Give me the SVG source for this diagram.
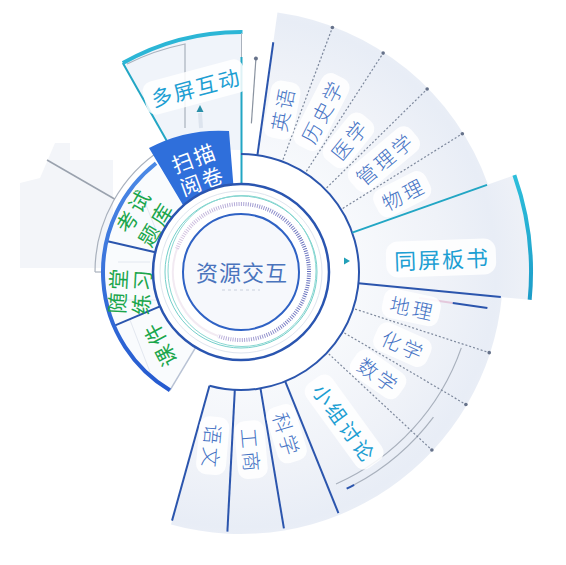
<svg xmlns="http://www.w3.org/2000/svg" width="566" height="565" viewBox="0 0 566 565">
<defs>
<radialGradient id="fanGrad" gradientUnits="userSpaceOnUse" cx="241" cy="272" r="290">
<stop offset="0.40" stop-color="#f7f9fc"/>
<stop offset="0.70" stop-color="#eff2f8"/>
<stop offset="0.88" stop-color="#e8edf6"/>
<stop offset="1" stop-color="#eef1f7"/>
</radialGradient>
<linearGradient id="dashGrad" gradientUnits="userSpaceOnUse" x1="173" y1="272" x2="309" y2="272">
<stop offset="0" stop-color="#dcc9e3"/>
<stop offset="0.5" stop-color="#aea6d6"/>
<stop offset="1" stop-color="#6670bd"/>
</linearGradient>
<linearGradient id="bandGrad" gradientUnits="userSpaceOnUse" x1="0" y1="160" x2="0" y2="392">
<stop offset="0" stop-color="#4d8ae6"/>
<stop offset="1" stop-color="#2459cf"/>
</linearGradient>
<linearGradient id="tealGrad" gradientUnits="userSpaceOnUse" x1="0" y1="170" x2="0" y2="300">
<stop offset="0" stop-color="#2ec0dc"/>
<stop offset="1" stop-color="#1d9cc8"/>
</linearGradient>
</defs>
<style>
.lbl{font-family:"Noto Sans CJK SC","Noto Sans",sans-serif;font-size:20px;font-weight:300;fill:#4472c4;text-anchor:middle;dominant-baseline:central;letter-spacing:3px}
.teal{fill:#1d9fd3;font-size:21px;font-weight:400;letter-spacing:2px}
.green{fill:#1ba64c;font-size:21px;font-weight:400;letter-spacing:3px}
.white{fill:#ffffff;font-size:21px;font-weight:400;letter-spacing:2px}
.blob{fill:#ffffff;opacity:0.85}
.sep{stroke:#2b55ad;stroke-width:2;fill:none}
.tl{stroke:#22a6c4;fill:none}
.dot{stroke:#7d889c;stroke-width:1.2;stroke-dasharray:2 2;fill:none}
.grey{stroke:#a9b1bd;stroke-width:1.2;fill:none}
.end{fill:#66728a}
</style>

<g id="background">
<polygon points="40,178 55,143 70,143 70,160 113,160 113,268 20,268 20,183" fill="#f3f5f9"/>
<path d="M257.42,155.15 L277.46,12.55 A262 262 0 0 1 487.97,184.54 L352.23,232.61 A118 118 0 0 0 257.42,155.15 Z" fill="url(#fanGrad)"/>
<path d="M352.23,232.61 L514.37,175.20 A290 290 0 0 1 529.67,299.80 L358.46,283.31 A118 118 0 0 0 352.23,232.61 Z" fill="url(#fanGrad)"/>
<path d="M358.46,283.31 L501.79,297.11 A262 262 0 0 1 170.98,524.47 L209.47,385.71 A118 118 0 0 0 358.46,283.31 Z" fill="url(#fanGrad)"/>
<path d="M171.08,148.41 L122.82,63.11 A240 240 0 0 1 241,32 L241,150 Z" fill="#f0f4fa"/>
</g>

<g id="decor">
<path class="grey" d="M95,272 A146 146 0 0 1 163.63,148.18"/>
<path class="grey" d="M95,272 L101,272"/>
<path d="M114.56,199 L47.01,160" stroke="#9aa2ae" stroke-width="1.5"/>
<path class="grey" d="M461.30,347.86 A233 233 0 0 1 336,484"/>
<path class="grey" d="M433.47,417.04 A241 241 0 0 1 354.14,484.79"/>
<path d="M354.14,484.79 A241 241 0 0 1 346.65,488.61" stroke="#2b55ad" stroke-width="2" fill="none"/>
<path d="M419.12,297.98 L452.76,302.89" stroke="#e4c8dc" stroke-width="2"/>
<path d="M452.76,302.89 L487.39,307.95" stroke="#2b55ad" stroke-width="2"/>
<path d="M251.39,123.36 L255.93,58.52" stroke="#8a93a0" stroke-width="1.2"/>
<circle cx="255.93" cy="58.52" r="2" class="end"/>
<path class="grey" d="M127,64 A234 234 0 0 1 185,44 L185,128"/>
<polygon points="200,105 203.5,112 196.5,112" fill="#2a8fa8"/>
<path d="M200,113 L201,128" stroke="#dde4ee" stroke-width="4"/>
</g>

<g id="node-duopinghudong">
<path class="tl" stroke-width="2" d="M171.08,148.41 L122.82,63.11"/>
<path stroke="#2cb6d6" stroke-width="4" fill="none" d="M122.82,63.11 A240 240 0 0 1 242.5,32"/>
<path stroke="#aab2bd" stroke-width="1" d="M241.5,33 L241.5,57"/>
<path class="tl" stroke-width="2" d="M241.5,57 L241.5,183"/>
<rect class="blob" x="-52" y="-17" width="104" height="34" rx="10" transform="translate(195,87) rotate(-15)"/>
<text class="lbl teal" x="1" y="0" transform="translate(195,87) rotate(-15)">多屏互动</text>
</g>

<g id="node-tongpingbanshu">
<path stroke="url(#tealGrad)" stroke-width="4" fill="none" d="M514.37,175.20 A290 290 0 0 1 529.67,299.80"/>
<rect class="blob" x="-55" y="-18" width="110" height="36" rx="12" transform="translate(441,258) rotate(-2)"/>
<text class="lbl teal" x="1" y="0" transform="translate(441,258) rotate(-2)" style="font-size:22px">同屏板书</text>
</g>

<g id="connectors">
<path class="sep" d="M241,154 A118 118 0 1 1 209.47,385.71"/>
<path class="sep" d="M257.42,155.15 L273.29,42.26"/>
<path class="dot" d="M283.03,159.60 L332.40,27.53"/>
<path class="dot" d="M306.36,171.36 L383.15,53.11"/>
<path class="dot" d="M326.59,187.89 L427.16,89.06"/>
<path class="dot" d="M342.77,208.41 L462.34,133.69"/>
<path class="tl" stroke-width="2" d="M352.23,232.61 L487.03,184.88"/>
<path class="sep" d="M358.46,283.31 L500.80,297.02"/>
<path class="dot" d="M355.13,309.08 L489.23,352.65"/>
<path class="dot" d="M344.40,332.90 L465.89,404.47"/>
<path class="dot" d="M328.76,353.84 L431.88,450.00"/>
<path class="sep" d="M285.20,381.41 L338.40,513.07"/>
<path class="sep" d="M260.48,388.38 L283.91,528.44"/>
<path class="sep" d="M234.82,389.84 L227.39,531.64"/>
<path class="sep" d="M209.47,385.71 L172.05,520.62"/>
<circle class="end" cx="332.40" cy="27.53" r="1.8"/>
<circle class="end" cx="383.15" cy="53.11" r="1.8"/>
<circle class="end" cx="427.16" cy="89.06" r="1.8"/>
<circle class="end" cx="462.34" cy="133.69" r="1.8"/>
<circle class="end" cx="489.23" cy="352.65" r="1.8"/>
<circle class="end" cx="465.89" cy="404.47" r="1.8"/>
<circle class="end" cx="431.88" cy="450.00" r="1.8"/>
<polygon points="344,257.5 350,261 344,264.5" fill="#22a0b8"/>
</g>

<g id="node-yingyu" transform="translate(282.1,110.1) rotate(-79)"><rect class="blob" x="-29" y="-15" width="58" height="30" rx="10"/><text class="lbl" x="1.5">英语</text></g>
<g id="node-lishixue" transform="translate(321.6,112.1) rotate(-63)"><rect class="blob" x="-40" y="-15" width="80" height="30" rx="10"/><text class="lbl" x="1.5">历史学</text></g>
<g id="node-yixue" transform="translate(348.5,140.3) rotate(-51)"><rect class="blob" x="-29" y="-15" width="58" height="30" rx="10"/><text class="lbl" x="1.5">医学</text></g>
<g id="node-guanlixue" transform="translate(383.9,159.3) rotate(-40)"><rect class="blob" x="-40" y="-15" width="80" height="30" rx="10"/><text class="lbl" x="1.5">管理学</text></g>
<g id="node-wuli" transform="translate(402.2,194.2) rotate(-27)"><rect class="blob" x="-29" y="-15" width="58" height="30" rx="10"/><text class="lbl" x="1.5">物理</text></g>
<g id="node-dili" transform="translate(411.3,307.4) rotate(12)"><rect class="blob" x="-29" y="-15" width="58" height="30" rx="10"/><text class="lbl" x="1.5">地理</text></g>
<g id="node-huaxue" transform="translate(402.4,344.7) rotate(24)"><rect class="blob" x="-29" y="-15" width="58" height="30" rx="10"/><text class="lbl" x="1.5">化学</text></g>
<g id="node-shuxue" transform="translate(378,374.3) rotate(35)"><rect class="blob" x="-29" y="-15" width="58" height="30" rx="10"/><text class="lbl" x="1.5">数学</text></g>
<g id="node-xiaozutaolun" transform="translate(344.1,422) rotate(54)"><rect class="blob" x="-52" y="-16" width="104" height="32" rx="10"/><text class="lbl teal" x="1.5" style="letter-spacing:3px;font-size:20px">小组讨论</text></g>
<g id="node-kexue" transform="translate(286.6,433.7) rotate(73)"><rect class="blob" x="-29" y="-15" width="58" height="30" rx="10"/><text class="lbl" x="1.5">科学</text></g>
<g id="node-gongshang" transform="translate(251.1,449.7) rotate(85)"><rect class="blob" x="-29" y="-15" width="58" height="30" rx="10"/><text class="lbl" x="1.5">工商</text></g>
<g id="node-yuwen" transform="translate(212.7,445.7) rotate(95)"><rect class="blob" x="-29" y="-15" width="58" height="30" rx="10"/><text class="lbl" x="1.5">语文</text></g>

<g id="left-band">
<path d="M195.68,347.43 L169.92,390.29 A138 138 0 0 1 156.04,163.25 L186.82,202.66 A88 88 0 0 0 195.68,347.43 Z" fill="#f9fbfd"/>
<path d="M130,320 L150,372 M112,300 L160,300 M118,262 L150,262 M140,190 L160,240" stroke="#e3e8f0" stroke-width="1" fill="none"/>
<path d="M195.68,347.43 L169.92,390.29" stroke="#b8c2d4" stroke-width="1.5"/>
<path class="sep" d="M160.00,306.38 L113.97,325.92"/>
<path class="sep" d="M155.26,252.20 L106.54,240.96"/>
<path d="M169.92,390.29 A138 138 0 0 1 156.04,163.25" stroke="url(#bandGrad)" stroke-width="4" fill="none"/>
</g>

<g id="node-saomiaoyuejuan">
<path d="M183.27,205.59 L149,148 A150 150 0 0 1 229,131 L233.33,184.34 A88 88 0 0 0 183.27,205.59 Z" fill="#2f6fdb"/>
<text class="lbl white" transform="translate(197,169) rotate(-20)"><tspan x="1" y="-12">扫描</tspan><tspan x="1" y="12">阅卷</tspan></text>
</g>
<g id="node-kaoshitiku">
<text class="lbl green" transform="translate(143.5,217.8) rotate(-59)"><tspan x="1.5" y="-13">考试</tspan><tspan x="1.5" y="13">题库</tspan></text>
</g>
<g id="node-suitanglianxi">
<text class="lbl green" transform="translate(129,291.8) rotate(-87)"><tspan x="1.5" y="-12">随堂</tspan><tspan x="1.5" y="12">练习</tspan></text>
</g>
<g id="node-kejian">
<text class="lbl green" transform="translate(159.5,345.5) rotate(-118)"><tspan x="1.5" y="0">课件</tspan></text>
</g>

<g id="node-ziyuanjiaohu">
<circle cx="241" cy="272" r="87" fill="#ffffff"/>
<circle cx="241" cy="272" r="81" fill="none" stroke="#dfe5ee" stroke-width="1"/>
<circle cx="241" cy="272" r="76" fill="none" stroke="#74cfca" stroke-width="1"/>
<ellipse cx="242" cy="271" rx="74" ry="75.5" fill="none" stroke="#8ad8d2" stroke-width="1"/>
<path d="M177.10,248.74 A68 68 0 1 1 217.74,335.90" fill="none" stroke="url(#dashGrad)" stroke-width="4" stroke-dasharray="1 1.3"/>
<path d="M217.74,335.90 A68 68 0 0 1 177.10,248.74" fill="none" stroke="#eadcea" stroke-width="2" opacity="0.6"/>
<circle cx="241" cy="272" r="88" fill="none" stroke="#2a55b0" stroke-width="2.5"/>
<circle cx="241" cy="272" r="58" fill="#f6f8fc" stroke="#2f62c4" stroke-width="2"/>
<text class="lbl" x="242" y="271" style="font-size:22px;letter-spacing:1px;font-weight:400;fill:#4a74bc">资源交互</text>
<path d="M222,290 L260,290" stroke="#c9d0dc" stroke-width="1" stroke-dasharray="3 3"/>
</g>
</svg>
